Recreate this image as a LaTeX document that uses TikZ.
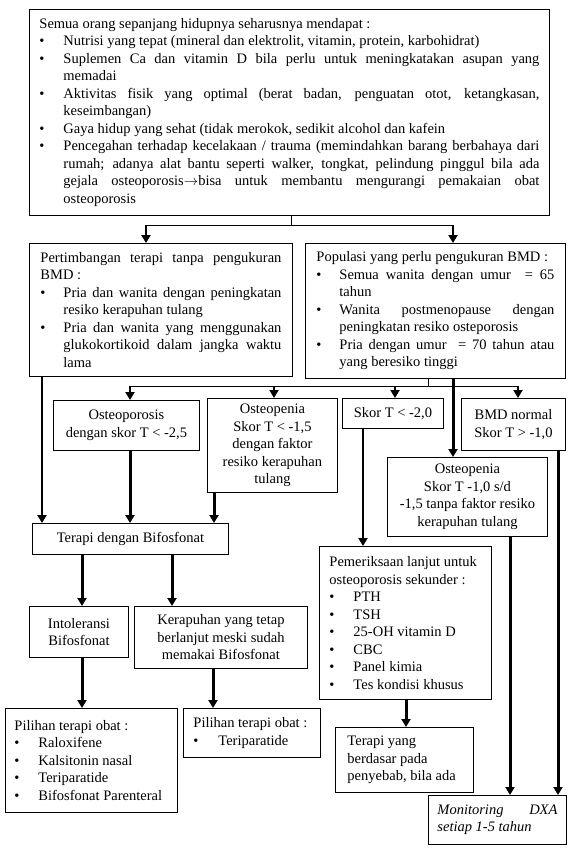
\documentclass[tikz,border=0pt]{standalone}
\usepackage{fontspec}
\setmainfont{Liberation Serif}
\usetikzlibrary{arrows.meta}
\newcommand\fs{\fontsize{14.5}{17.5}\selectfont}
\newenvironment{blist}[1][24pt]{\begin{list}{\textbullet}{\setlength\leftmargin{#1}\setlength\labelwidth{#1}\setlength\labelsep{0pt}\setlength\itemsep{0pt}\setlength\parsep{0pt}\setlength\topsep{0pt}\setlength\partopsep{0pt}\renewcommand\makelabel[1]{##1\hfil}}}{\end{list}}
\tikzset{
  box/.style={draw, line width=0.9pt, inner sep=0pt, anchor=north west, align=center, font=\fs},
  conn/.style={line width=1pt},
  arrm/.style={line width=2pt, -{Triangle[width=9pt,length=8pt]}},
  arrk/.style={line width=3pt, -{Triangle[width=9pt,length=8pt]}},
}
\begin{document}
\begin{tikzpicture}[x=1pt,y=-1pt]
\useasboundingbox[fill=white] (0,0) rectangle (580,862);
% boxes
\node[box, minimum width=520pt, minimum height=206pt] (top) at (29,9) {\begin{minipage}{500pt}\fs
Semua orang sepanjang hidupnya seharusnya mendapat :
\begin{blist}
\item Nutrisi yang tepat (mineral dan elektrolit, vitamin, protein, karbohidrat)
\item Suplemen Ca dan vitamin D bila perlu untuk meningkatakan asupan yang\linebreak memadai
\item Aktivitas fisik yang optimal (berat badan, penguatan otot, ketangkasan,\linebreak keseimbangan)
\item Gaya hidup yang sehat (tidak merokok, sedikit alcohol dan kafein
\item Pencegahan terhadap kecelakaan / trauma (memindahkan barang berbahaya dari\linebreak rumah; adanya alat bantu seperti walker, tongkat, pelindung pinggul bila ada\linebreak gejala osteoporosis$\rightarrow$bisa untuk membantu mengurangi pemakaian obat\linebreak osteoporosis
\end{blist}
\end{minipage}};
\node[box, minimum width=263pt, minimum height=133pt] (left) at (29,243) {\begin{minipage}{241pt}\fs
Pertimbangan terapi tanpa pengukuran\linebreak BMD :
\begin{blist}[23pt]
\item Pria dan wanita dengan peningkatan\linebreak resiko kerapuhan tulang
\item Pria dan wanita yang menggunakan\linebreak glukokortikoid dalam jangka waktu\linebreak lama
\end{blist}
\end{minipage}};
\node[box, minimum width=260pt, minimum height=135pt] (right) at (305,243) {\begin{minipage}{238pt}\fs
Populasi yang perlu pengukuran BMD :
\begin{blist}[23pt]
\item Semua wanita dengan umur\ \ = 65\linebreak tahun
\item Wanita postmenopause dengan\linebreak peningkatan resiko osteporosis
\item Pria dengan umur\ \ = 70 tahun atau\linebreak yang beresiko tinggi
\end{blist}
\end{minipage}};
\node[box, minimum width=146pt, minimum height=50pt] (osteo) at (53,400) {Osteoporosis\\dengan skor T < -2,5};
\node[box, minimum width=130pt, minimum height=94pt] (openA) at (207,398) {Osteopenia\\Skor T < -1,5\\dengan faktor\\resiko kerapuhan\\tulang};
\node[box, minimum width=101pt, minimum height=30pt] (skor) at (342,398) {Skor T < -2,0};
\node[box, minimum width=104pt, minimum height=52pt] (bmd) at (461,398) {BMD normal\\Skor T > -1,0};
\node[box, minimum width=160pt, minimum height=79pt] (openB) at (387,457) {Osteopenia\\Skor T -1,0 s/d\\-1,5 tanpa faktor resiko\\kerapuhan tulang};
\node[box, minimum width=196pt, minimum height=31pt] (terapi) at (32,523) {Terapi dengan Bifosfonat};
\node[box, minimum width=172pt, minimum height=153pt] (pem) at (319,546) {\begin{minipage}{152pt}\fs\raggedright
Pemeriksaan lanjut untuk\\osteoporosis sekunder :
\begin{blist}
\item PTH
\item TSH
\item 25-OH vitamin D
\item CBC
\item Panel kimia
\item Tes kondisi khusus
\end{blist}
\end{minipage}};
\node[box, minimum width=99pt, minimum height=51pt] (intol) at (29,606) {Intoleransi\\Bifosfonat};
\node[box, minimum width=173pt, minimum height=62pt] (kerap) at (134,606) {Kerapuhan yang tetap\\berlanjut meski sudah\\memakai Bifosfonat};
\node[box, minimum width=172pt, minimum height=104pt] (pilL) at (5,708) {\begin{minipage}{154pt}\fs\raggedright
Pilihan terapi obat :
\begin{blist}
\item Raloxifene
\item Kalsitonin nasal
\item Teriparatide
\item Bifosfonat Parenteral
\end{blist}
\end{minipage}};
\node[box, minimum width=137pt, minimum height=49pt] (pilM) at (183,708) {\begin{minipage}{117pt}\fs\raggedright
Pilihan terapi obat :
\begin{blist}[25pt]
\item Teriparatide
\end{blist}
\end{minipage}};
\node[box, minimum width=138pt, minimum height=65pt] (tyang) at (335,727) {\begin{minipage}{114pt}\fs\raggedright
Terapi yang\\berdasar pada\\penyebab, bila ada
\end{minipage}};
\node[box, minimum width=138pt, minimum height=49pt] (mon) at (428,795) {\begin{minipage}{120pt}\fs\itshape
Monitoring\hfill DXA\\setiap 1-5 tahun
\end{minipage}};
% junction coordinates
\coordinate (jt) at (291,225);
\coordinate (jtl) at (146,225);
\coordinate (jtr) at (453,225);
\coordinate (jr) at (428,386);
\coordinate (jr1) at (130,386);
\coordinate (jr2) at (274,386);
\coordinate (jr3) at (395,386);
\coordinate (jr4) at (518,386);
\coordinate (c42) at (42,0);
\coordinate (c453) at (453,0);
\coordinate (c130) at (130,0);
\coordinate (c214) at (214,0);
\coordinate (c363) at (363,0);
\coordinate (c510) at (510,0);
\coordinate (c558) at (558,0);
\coordinate (c82) at (82,0);
\coordinate (c172) at (172,0);
\coordinate (c213) at (213,0);
\coordinate (c406) at (406,0);
% connectors
\draw[conn] (top.south -| jt) -- (jt);
\draw[conn] (jtl) -- (jtr);
\draw[arrm] (jtl) -- (jtl |- left.north);
\draw[arrm] (jtr) -- (jtr |- right.north);
\draw[arrm] (left.south -| c42) -- (terapi.north -| c42);
\draw[conn] (right.south -| jr) -- (jr);
\draw[conn] (jr1) -- (jr4);
\draw[arrm] (jr1) -- (jr1 |- osteo.north);
\draw[arrm] (jr2) -- (jr2 |- openA.north);
\draw[arrm] (jr3) -- (jr3 |- skor.north);
\draw[arrm] (jr4) -- (jr4 |- bmd.north);
\draw[arrk] (right.south -| c453) -- (openB.north -| c453);
\draw[arrk] (osteo.south -| c130) -- (terapi.north -| c130);
\draw[arrk] (openA.south -| c214) -- (terapi.north -| c214);
\draw[arrm] (skor.south -| c363) -- (pem.north -| c363);
\draw[arrk] (openB.south -| c510) -- (mon.north -| c510);
\draw[arrk] (bmd.south -| c558) -- (mon.north -| c558);
\draw[arrk] (terapi.south -| c82) -- (intol.north -| c82);
\draw[arrk] (terapi.south -| c172) -- (kerap.north -| c172);
\draw[arrk] (intol.south -| c82) -- (pilL.north -| c82);
\draw[arrk] (kerap.south -| c213) -- (pilM.north -| c213);
\draw[arrk] (pem.south -| c406) -- (tyang.north -| c406);
\end{tikzpicture}
\end{document}
